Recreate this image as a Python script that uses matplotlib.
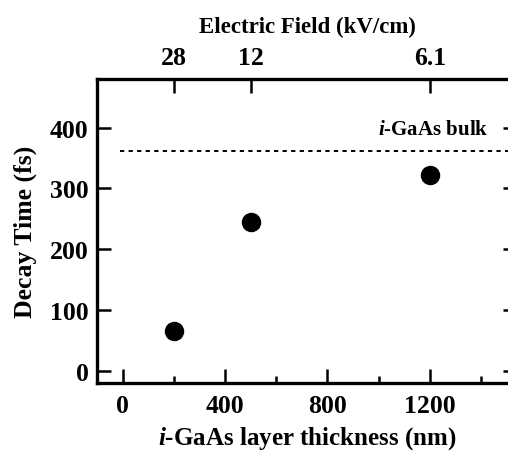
import matplotlib
matplotlib.use("Agg")
import matplotlib.pyplot as plt

thickness = [200, 500, 1200]
decay = [65, 245, 322]
field_labels = ["28", "12", "6.1"]
bulk_decay = 362
xticks = [0, 400, 800, 1200]
yticks = [0, 100, 200, 300, 400]

plt.rcParams['font.family'] = ['Liberation Serif', 'DejaVu Serif']
plt.rcParams['font.weight'] = 'bold'
plt.rcParams['mathtext.fontset'] = 'custom'
plt.rcParams['mathtext.it'] = 'Liberation Serif:italic:bold'
plt.rcParams['mathtext.rm'] = 'Liberation Serif:bold'
plt.rcParams['mathtext.bf'] = 'Liberation Serif:bold'

fig = plt.figure(figsize=(5.08, 4.52), dpi=100)
ax = fig.add_axes([97/508, 1-384/452, (517-97)/508, (384-80)/452])
ax.set_xlim(-100, 1541)
ax.set_ylim(-20, 480)

ax.plot(thickness, decay, 'o', color='black', markersize=13)
ax.plot([-10, 1541], [bulk_decay, bulk_decay], color='black', linestyle=(0, (2.2, 2.2)), linewidth=1.4)
ax.text(1428, 398, r"$\it{i}$-GaAs bulk", ha='right', va='center', fontsize=15, fontweight='bold')

for s in ['left', 'bottom', 'top', 'right']:
    ax.spines[s].set_linewidth(2.4)
ax.spines['right'].set_visible(False)

ax.set_xticks(xticks)
ax.set_xticks([200, 600, 1000, 1400], minor=True)
ax.set_yticks(yticks)
ax.tick_params(axis='both', which='major', direction='in', length=10, width=1.8, labelsize=18.5, pad=6)
ax.tick_params(axis='x', which='major', pad=8)
ax.tick_params(axis='x', which='minor', direction='in', length=5, width=1.8)
ax.tick_params(axis='y', right=True, which='major')
for lab in ax.get_xticklabels() + ax.get_yticklabels():
    lab.set_fontweight('bold')

ax.set_xlabel(r"$\it{i}$-GaAs layer thickness (nm)", fontsize=18, fontweight='bold', labelpad=5)
ax.set_ylabel("Decay Time (fs)", fontsize=18.5, fontweight='bold', labelpad=9)

ax2 = ax.twiny()
ax2.set_xlim(ax.get_xlim())
ax2.set_xticks(thickness)
ax2.set_xticklabels(field_labels)
ax2.tick_params(axis='x', direction='in', length=10, width=1.8, labelsize=18.5, pad=7)
for lab in ax2.get_xticklabels():
    lab.set_fontweight('bold')
for s in ax2.spines.values():
    s.set_visible(False)
ax2.set_xlabel("Electric Field (kV/cm)", fontsize=16.5, fontweight='bold', labelpad=10)

fig.savefig("out.png", dpi=100)
